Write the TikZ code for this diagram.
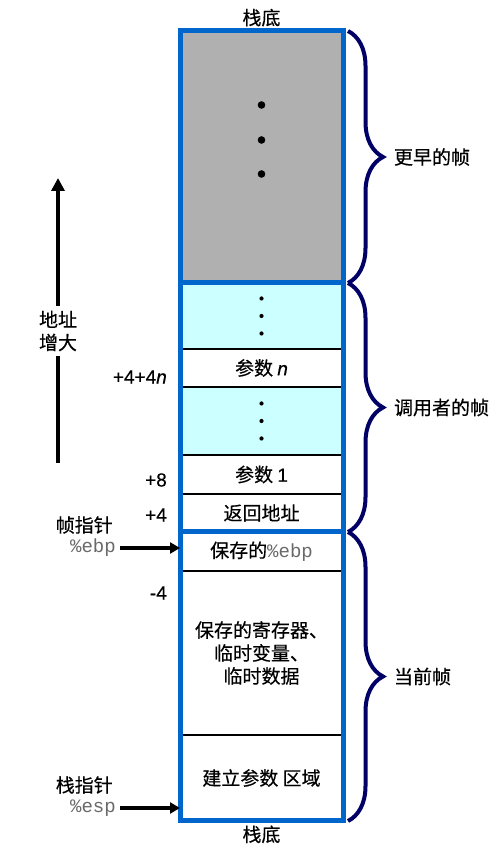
\documentclass[tikz,border=0pt]{standalone}
\usepackage{fontspec}
\setmainfont{Noto Sans CJK SC}[FakeBold=0.4]
\setmonofont{Liberation Mono}
\newfontfamily\arialfont{Liberation Sans}[FakeBold=0.4]
\usetikzlibrary{positioning, arrows.meta, decorations.pathreplacing}
\definecolor{stackgray}{RGB}{176,176,176}
\definecolor{argcyan}{RGB}{204,255,255}
\definecolor{frameblue}{RGB}{0,102,204}
\definecolor{bracenavy}{RGB}{0,0,102}
\definecolor{reggray}{RGB}{105,105,105}
\newcommand{\regname}[1]{{\ttfamily\color{reggray}\%#1}}
\tikzset{
cell/.style={draw=black, line width=1.2pt, minimum width=163pt, inner sep=0pt, outer sep=0pt, align=center}, % one slot of the stack
frameline/.style={draw=frameblue, line width=5pt}, % the outline of a whole frame
framebrace/.style={draw=bracenavy, line width=4pt, decorate, decoration={brace, amplitude=35pt}}, % brace on the right
bracelbl/.style={right=44pt, inner sep=0pt}, % text next to a brace
offset/.style={anchor=east, inner sep=0pt, font=\arialfont\fontsize{19pt}{23pt}\selectfont}, % offsets from %ebp
ptrlbl/.style={anchor=east, inner sep=0pt}, % names of the pointers
ptrarrow/.style={line width=4pt, -{Triangle[length=10pt, width=11pt]}, shorten <=4pt}, % arrow into the stack
}

\begin{document}
\begin{tikzpicture}[x=1pt, y=1pt, font=\fontsize{19pt}{23pt}\selectfont]
      \useasboundingbox (0,0) rectangle (500,858);

      % the slots, top to bottom
      \node[cell, fill=stackgray, minimum height=252pt, anchor=north] (early) at (261.5,827) {};
      \node[cell, fill=argcyan, minimum height=66pt, below=0pt of early] (dots1) {};
      \node[cell, minimum height=38pt, below=0pt of dots1] (argn) {参数 {\arialfont\itshape n}};
      \node[cell, fill=argcyan, minimum height=68pt, below=0pt of argn] (dots2) {};
      \node[cell, minimum height=39pt, below=0pt of dots2] (arg1) {参数 {\arialfont 1}};
      \node[cell, minimum height=38pt, below=0pt of arg1] (ret) {返回地址};
      \node[cell, minimum height=39pt, below=0pt of ret] (ebp) {保存的\regname{ebp}};
      \node[cell, minimum height=164pt, below=0pt of ebp] (regs) {保存的寄存器、\\临时变量、\\临时数据};
      \node[cell, minimum height=86pt, below=0pt of regs] (build) {建立参数 区域};

      \foreach \dy in {52,17,-17}
        \fill (early.center) ++(0,\dy) circle (3.8);
      \foreach \dy in {17.5,0,-17.5} {
        \fill (dots1.center) ++(0,\dy) circle (2.1);
        \fill (dots2.center) ++(0,\dy) circle (2.1);
      }

      % frames
      \draw[frameline] (early.north west) rectangle (early.south east);
      \draw[frameline] (dots1.north west) rectangle (ret.south east);
      \draw[frameline] (ebp.north west) rectangle (build.south east);

      \node[above=1pt of early] (basetop) {栈底};
      \node[below=1pt of build] (basebot) {栈底};

      % braces
      \draw[framebrace] ([xshift=5pt]early.north east) -- node[bracelbl] (earlylbl) {更早的帧} ([xshift=5pt]early.south east);
      \draw[framebrace] ([xshift=5pt]dots1.north east) -- node[bracelbl] (callerlbl) {调用者的帧} ([xshift=5pt]ret.south east);
      \draw[framebrace] ([xshift=5pt]ebp.north east) -- node[bracelbl] (currentlbl) {当前帧} ([xshift=5pt]build.south east);

      % offsets
      \node[offset, left=13pt of argn.west, yshift=-9pt] (off4n) {+4+4\textit{n}};
      \node[offset, left=13pt of arg1.west, yshift=-5.5pt] (off8) {+8};
      \node[offset, left=13pt of ret.west, yshift=-2pt] (off4) {+4};
      \node[offset, left=13pt of regs.north west, yshift=-22pt] (offm4) {-4};

      % pointers
      \node[ptrlbl] (fp) at (113,333) {帧指针};
      \node[ptrlbl] (fpreg) at (116,310) {\regname{ebp}};
      \node[ptrlbl] (sp) at (113,73) {栈指针};
      \node[ptrlbl] (spreg) at (116,50) {\regname{esp}};
      \draw[ptrarrow] (fpreg.east) -- (fpreg.east -| ebp.west);
      \draw[ptrarrow] (spreg.east) -- (spreg.east -| build.west);

      % growth of the addresses
      \node[align=center, inner sep=5pt] (addr) at (58,527) {地址\\增大};
      \coordinate (addrbot) at (58,395);
      \coordinate (addrtop) at (58,680);
      \draw[line width=4pt] (addrbot) -- (addr);
      \draw[line width=4pt, -{Triangle[length=13pt, width=13pt]}] (addr) -- (addrtop);
    \end{tikzpicture}
\end{document}
